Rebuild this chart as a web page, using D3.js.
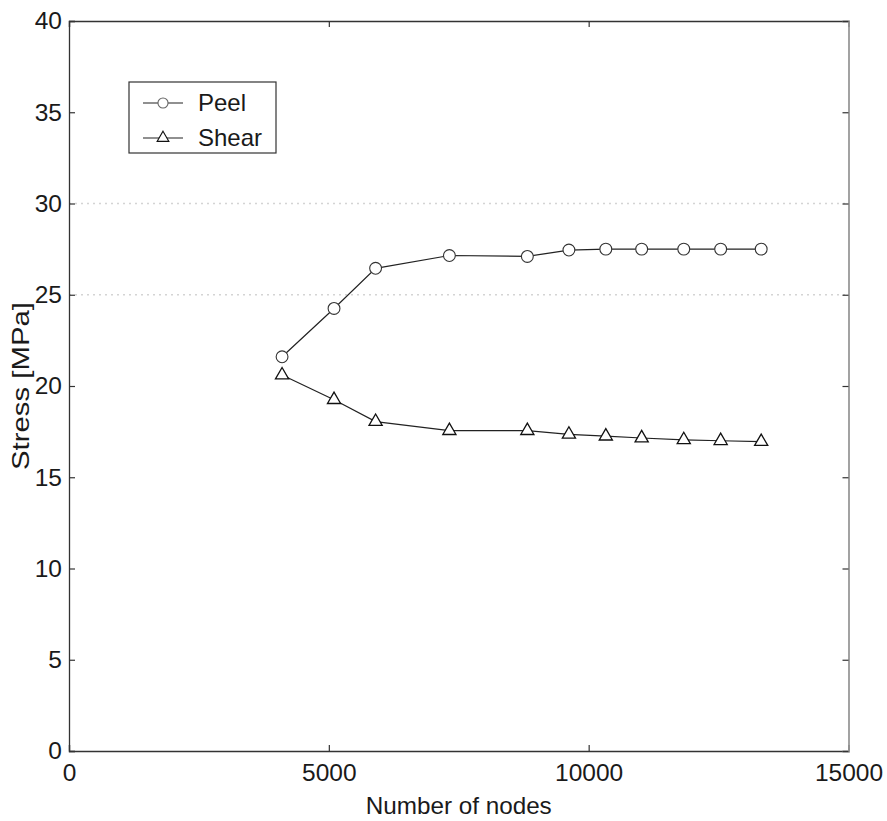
<!DOCTYPE html>
<html>
<head>
<meta charset="utf-8">
<script src="https://cdn.jsdelivr.net/npm/d3@7"></script>
<style>
  body { margin: 0; background: #fff; }
  text { font-family: "Liberation Sans", Arial, Helvetica, sans-serif; fill: #1a1a1a; }
</style>
</head>
<body>
<svg id="chart" width="887" height="821"></svg>
<script>
// Mesh convergence: stress vs number of nodes
const nodes = [4100, 5100, 5900, 7320, 8820, 9620, 10330, 11020, 11830, 12540, 13320];
const peel  = [21.6, 24.25, 26.45, 27.15, 27.1, 27.45, 27.5, 27.5, 27.5, 27.5, 27.5];
const shear = [20.6, 19.25, 18.05, 17.55, 17.55, 17.35, 17.25, 17.15, 17.05, 17.0, 16.95];

const xTicks = [0, 5000, 10000, 15000];
const yTicks = [0, 5, 10, 15, 20, 25, 30, 35, 40];
const gridLevels = [25, 30];

const seriesNames = ["Peel", "Shear"];

const margin = { left: 69, top: 21, right: 887 - 848.5, bottom: 821 - 751 };
const W = 887, H = 821;
const svg = d3.select("#chart");

const x = d3.scaleLinear().domain([0, 15000]).range([margin.left, W - margin.right]);
const y = d3.scaleLinear().domain([0, 40]).range([H - margin.bottom, margin.top]);

// faint dotted grid
svg.append("g").selectAll("line").data(gridLevels).join("line")
  .attr("x1", x(0)).attr("x2", x(15000))
  .attr("y1", d => y(d)).attr("y2", d => y(d))
  .attr("stroke", "#d4d4d4").attr("stroke-width", 1.4)
  .attr("stroke-dasharray", "2,4");

const tickLen = 6;
const axisColor = "#333";

// bottom and left axes (ticks inward)
const xAxis = d3.axisBottom(x).tickValues(xTicks).tickSize(-tickLen).tickPadding(13).tickFormat(d3.format("d"));
const yAxis = d3.axisLeft(y).tickValues(yTicks).tickSize(-tickLen).tickPadding(7);

const gx = svg.append("g").attr("transform", `translate(0,${y(0)})`).call(xAxis);
const gy = svg.append("g").attr("transform", `translate(${x(0)},0)`).call(yAxis);

// mirrored top and right axes
const gxt = svg.append("g").attr("transform", `translate(0,${y(40)})`)
  .call(d3.axisTop(x).tickValues(xTicks).tickSize(-tickLen).tickFormat(""));
const gyr = svg.append("g").attr("transform", `translate(${x(15000)},0)`)
  .call(d3.axisRight(y).tickValues(yTicks).tickSize(-tickLen).tickFormat(""));

[gx, gy, gxt].forEach(g => {
  g.select(".domain").attr("stroke", axisColor).attr("stroke-width", 1.3);
  g.selectAll(".tick line").attr("stroke", axisColor).attr("stroke-width", 1.2);
});
gyr.select(".domain").attr("stroke", "#999").attr("stroke-width", 1.8);
gyr.selectAll(".tick line").attr("stroke", axisColor).attr("stroke-width", 1.2);

[gx, gy].forEach(g => {
  g.selectAll(".tick text")
    .style("font-family", "'Liberation Sans', Arial, sans-serif")
    .style("font-size", "24.5px").attr("fill", "#1a1a1a");
});

// axis titles
svg.append("text")
  .attr("x", (x(0) + x(15000)) / 2).attr("y", 814)
  .attr("text-anchor", "middle").style("font-size", "24px")
  .attr("textLength", 186).attr("lengthAdjust", "spacingAndGlyphs")
  .text("Number of nodes");

svg.append("text")
  .attr("transform", `translate(29,${(y(0) + y(40)) / 2}) rotate(-90)`)
  .attr("text-anchor", "middle").style("font-size", "24px")
  .attr("textLength", 168).attr("lengthAdjust", "spacingAndGlyphs")
  .text("Stress [MPa]");

// series
const line = d3.line().x(d => x(d[0])).y(d => y(d[1]));
const peelPts = nodes.map((n, i) => [n, peel[i]]);
const shearPts = nodes.map((n, i) => [n, shear[i]]);

const lineColor = "#222";
svg.append("path").datum(peelPts).attr("d", line)
  .attr("fill", "none").attr("stroke", lineColor).attr("stroke-width", 1.2);
svg.append("path").datum(shearPts).attr("d", line)
  .attr("fill", "none").attr("stroke", lineColor).attr("stroke-width", 1.2);

const circleSym = d3.symbol().type(d3.symbolCircle).size(110);
const triSym = d3.symbol().type(d3.symbolTriangle).size(75);
const circleSmall = d3.symbol().type(d3.symbolCircle).size(80);
const triSmall = d3.symbol().type(d3.symbolTriangle).size(60);

svg.append("g").selectAll("path").data(peelPts).join("path")
  .attr("d", circleSym)
  .attr("transform", d => `translate(${x(d[0])},${y(d[1])})`)
  .attr("fill", "#fff").attr("stroke", "#333").attr("stroke-width", 1.1);

svg.append("g").selectAll("path").data(shearPts).join("path")
  .attr("d", triSym)
  .attr("transform", d => `translate(${x(d[0])},${y(d[1])})`)
  .attr("fill", "#fff").attr("stroke", "#111").attr("stroke-width", 1.3);

// legend
const lg = svg.append("g").attr("transform", "translate(129,82)");
lg.append("rect").attr("width", 147).attr("height", 71)
  .attr("fill", "#fff").attr("stroke", "#333").attr("stroke-width", 1.2);
const syms = [circleSmall, triSmall];
seriesNames.forEach((name, i) => {
  const cy = 21 + i * 35;
  lg.append("line").attr("x1", 14).attr("x2", 54).attr("y1", cy).attr("y2", cy)
    .attr("stroke", lineColor).attr("stroke-width", 1.2);
  lg.append("path").attr("d", syms[i]).attr("transform", `translate(34,${cy})`)
    .attr("fill", "#fff").attr("stroke", i === 0 ? "#666" : "#111").attr("stroke-width", 1.1);
  lg.append("text").attr("x", 69).attr("y", cy + 8)
    .style("font-size", "24px").text(name);
});
</script>
</body>
</html>
